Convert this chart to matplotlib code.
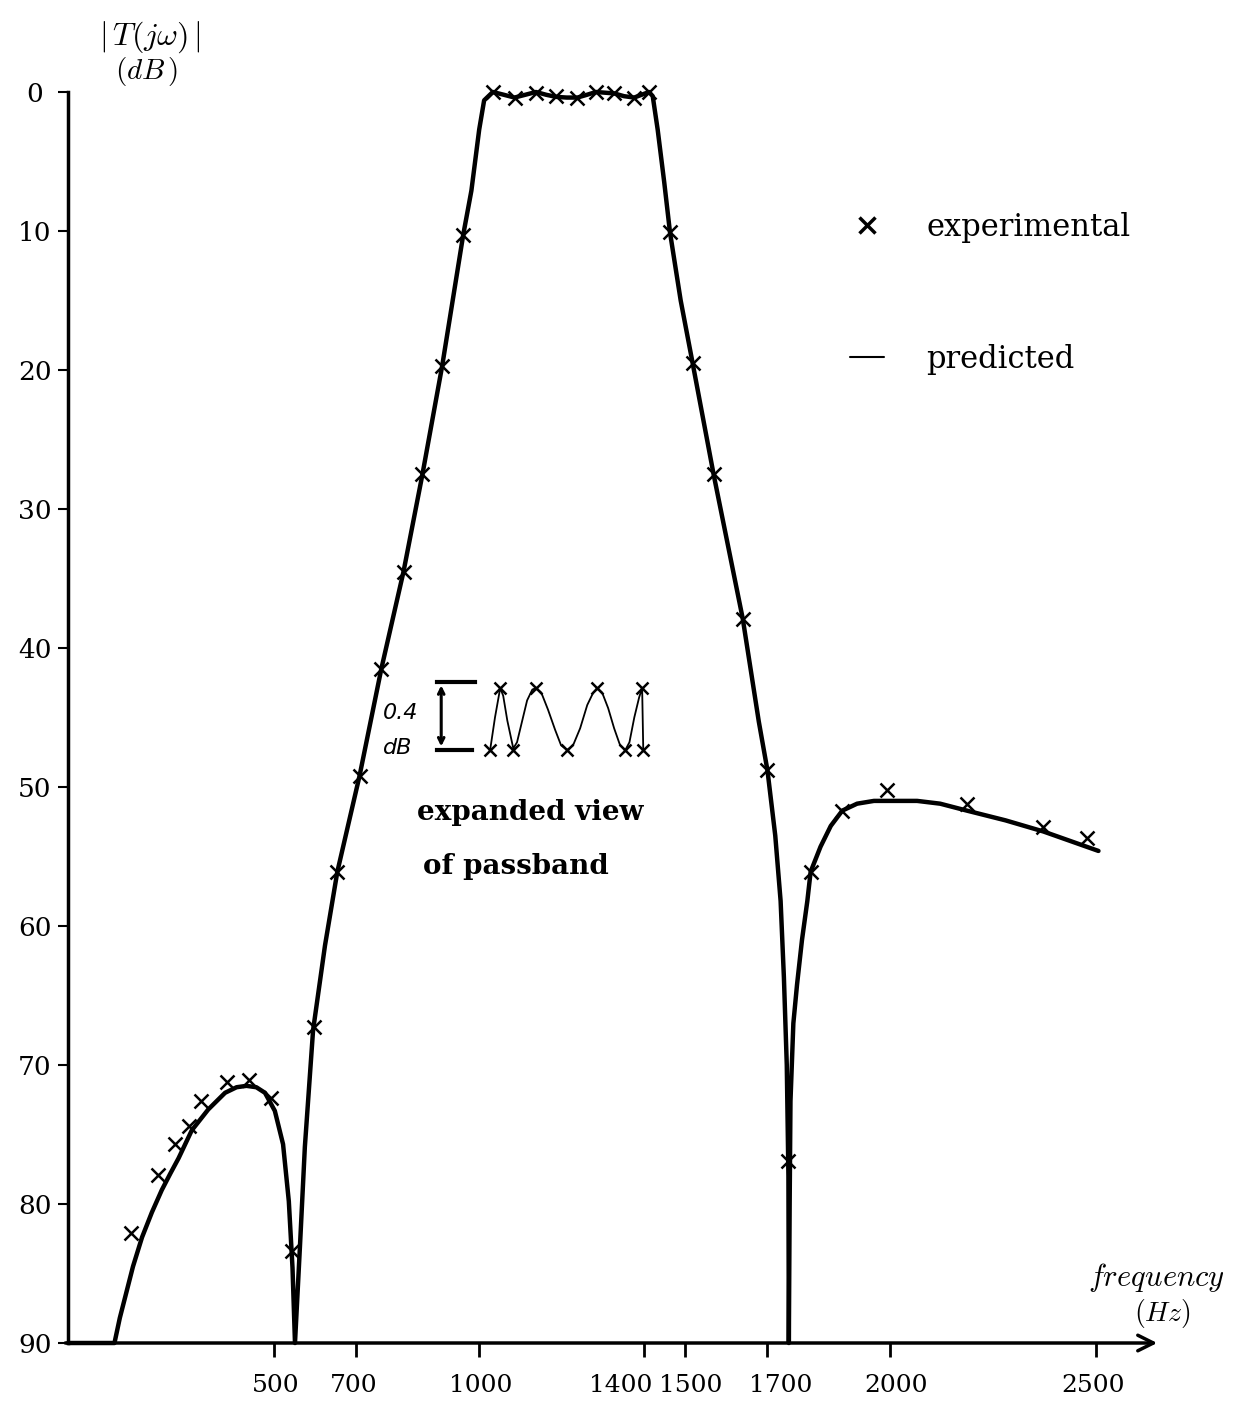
import matplotlib
matplotlib.use("Agg")
import matplotlib.pyplot as plt
import matplotlib.transforms as mtransforms

plt.rcParams['font.family'] = 'DejaVu Serif'
plt.rcParams['mathtext.fontset'] = 'cm'

# predicted response: frequency (Hz) and attenuation (dB)
pred_f = [0, 113, 126, 139, 158, 180, 204, 228, 249, 269, 301, 341, 382, 410, 434, 458,
          479, 503, 523, 537, 546, 552,
          564, 576, 596, 625, 655, 709, 762, 816, 862, 910, 961, 981, 1000, 1012,
          1033, 1060, 1086, 1112, 1138, 1163, 1187, 1213, 1239, 1262, 1284, 1306, 1328,
          1352, 1377, 1395, 1413,
          1422, 1434, 1450, 1464, 1490, 1519, 1570, 1641, 1680, 1701, 1720, 1733, 1741,
          1748, 1752, 1753,
          1755, 1757, 1764, 1773, 1785, 1798, 1806, 1830, 1855, 1883, 1919, 1960, 2000,
          2065, 2121, 2186, 2280, 2372, 2506]
pred_db = [90, 90, 88.2, 86.7, 84.5, 82.4, 80.6, 79.0, 77.8, 76.7, 74.7, 73.2, 72.0, 71.6, 71.5, 71.6,
           72.0, 73.3, 75.7, 79.8, 84.6, 90,
           83.1, 75.9, 67.5, 61.4, 56.1, 49.2, 41.5, 34.5, 27.5, 19.7, 10.3, 7.1, 2.7, 0.6,
           0.0, 0.2, 0.4, 0.2, 0.0, 0.2, 0.35, 0.4, 0.4, 0.2, 0.0, 0.05, 0.1,
           0.3, 0.4, 0.2, 0.0,
           0.3, 2.7, 6.5, 10.1, 15.0, 19.5, 27.5, 37.9, 45.3, 48.8, 53.5, 58.2, 63.7,
           70.0, 78.0, 90,
           80.0, 72.6, 67.0, 64.2, 61.0, 58.2, 56.1, 54.3, 52.8, 51.7, 51.2, 51.0, 51.0,
           51.0, 51.2, 51.7, 52.4, 53.2, 54.6]

# measured points
exp_f = [154, 220, 260, 294, 324, 386, 439, 493, 544,
         599, 655, 709, 762, 816, 862, 910, 961,
         1033, 1086, 1138, 1187, 1239, 1284, 1328, 1377, 1413,
         1464, 1519, 1570, 1641, 1701, 1750,
         1806, 1883, 1992, 2186, 2372, 2477]
exp_db = [82.1, 77.9, 75.7, 74.4, 72.6, 71.2, 71.1, 72.4, 83.4,
          67.3, 56.1, 49.2, 41.5, 34.5, 27.5, 19.7, 10.3,
          0.0, 0.4, 0.1, 0.3, 0.4, 0.0, 0.1, 0.4, 0.0,
          10.1, 19.5, 27.5, 37.9, 48.8, 76.9,
          56.1, 51.7, 50.2, 51.2, 52.9, 53.7]

# expanded passband sketch
inset_f = [1010, 1023, 1037, 1045, 1056, 1072, 1082, 1096, 1109, 1123, 1133, 1147, 1165,
           1184, 1200, 1216, 1232, 1251, 1270, 1286, 1297, 1310, 1326, 1342, 1358, 1372,
           1383, 1396, 1409, 1417, 1420]
inset_db = [0.40, 0.19, 0.0, 0.05, 0.21, 0.39, 0.35, 0.21, 0.08, 0.01, 0.0, 0.03, 0.14,
            0.27, 0.37, 0.40, 0.37, 0.26, 0.11, 0.03, 0.0, 0.03, 0.13, 0.26, 0.37, 0.40,
            0.35, 0.19, 0.06, 0.0, 0.40]
inset_exp_f = [1010, 1037, 1072, 1133, 1216, 1297, 1372, 1417, 1420]
inset_exp_db = [0.4, 0.0, 0.4, 0.0, 0.4, 0.0, 0.4, 0.0, 0.4]

x_ticks = [500, 700, 1000, 1400, 1500, 1700, 2000, 2500]
y_ticks = [0, 10, 20, 30, 40, 50, 60, 70, 80, 90]

W, H = 1238, 1407
fig = plt.figure(figsize=(W / 100, H / 100), dpi=100)

# axes placed in pixels: y axis at x=68, x axis at y=1343
px0, px1, py0, py1 = 68, 1160, 92, 1343
ax = fig.add_axes([px0 / W, 1 - py1 / H, (px1 - px0) / W, (py1 - py0) / H])
ax.set_xlim(0, (px1 - px0) / 0.4112)
ax.set_ylim(90, 0)

ax.plot(pred_f, pred_db, color='black', lw=3.2, solid_capstyle='round',
        solid_joinstyle='round', clip_on=False, label='predicted')
ax.plot(exp_f, exp_db, 'x', color='black', ms=10, mew=1.8, clip_on=False,
        label='experimental')

for s in ['top', 'right', 'bottom']:
    ax.spines[s].set_visible(False)
ax.spines['left'].set_linewidth(2.5)
ax.annotate('', xy=(1.0, 0), xytext=(-0.005, 0), xycoords='axes fraction',
            arrowprops=dict(arrowstyle='->', lw=2.5, mutation_scale=28, color='black'))

ax.set_xticks(x_ticks)
ax.set_xticklabels([str(v) for v in x_ticks])
ax.set_yticks(y_ticks)
ax.set_yticklabels([str(v) for v in y_ticks])
ax.tick_params(axis='x', direction='out', length=10, width=2, pad=12, labelsize=18)
ax.tick_params(axis='y', direction='out', length=7, width=1.5, pad=17, labelsize=19)
for lab in ax.get_yticklabels():
    lab.set_ha('center')

# hand-placed label shifts of the original (pixels)
label_nudge_px = [2, -2, 1, -23, 6, 14, 6, -3]
for lab, dx in zip(ax.get_xticklabels(), label_nudge_px):
    lab.set_transform(lab.get_transform() +
                      mtransforms.ScaledTranslation(dx / 100, 0, fig.dpi_scale_trans))

fig.text(150 / W, 1 - 37 / H, r'$|\,T(j\omega)\,|$', ha='center', va='center', fontsize=23)
fig.text(147 / W, 1 - 71 / H, r'$(dB\,)$', ha='center', va='center', fontsize=21)
fig.text(1156 / W, 1 - 1278 / H, r'$frequency$', ha='center', va='center', fontsize=22)
fig.text(1162 / W, 1 - 1314 / H, r'$(Hz)$', ha='center', va='center', fontsize=20)

leg = ax.legend(handles=ax.get_lines()[::-1], loc='upper left',
                bbox_to_anchor=(850 / W, 1 - 212 / H), bbox_transform=fig.transFigure,
                frameon=False, fontsize=22, handlelength=1.1, handletextpad=1.4,
                labelspacing=3.3, borderpad=0, borderaxespad=0)
leg.legend_handles[1].set_linewidth(1.5)
leg.legend_handles[0].set_markersize(11)
leg.legend_handles[0].set_markeredgewidth(2.5)

# expanded view of passband
ins = fig.add_axes([430 / W, 1 - 757.75 / H, 217 / W, 77.5 / H])
ins.set_xlim(849, 1430)
ins.set_ylim(0.45, -0.05)
ins.axis('off')
ins.plot(inset_f, inset_db, color='black', lw=1.3, clip_on=False)
ins.plot(inset_exp_f, inset_exp_db, 'x', color='black', ms=8, mew=1.8, clip_on=False)
ins.plot([868, 970], [-0.04, -0.04], color='black', lw=3, clip_on=False)
ins.plot([868, 962], [0.40, 0.40], color='black', lw=3, clip_on=False)
ins.annotate('', xy=(879, -0.035), xytext=(879, 0.395),
             arrowprops=dict(arrowstyle='<->', lw=2.2, color='black'))
fig.text(401 / W, 1 - 713 / H, '0.4', ha='center', va='center', fontsize=16,
         family='DejaVu Sans', style='italic')
fig.text(398 / W, 1 - 748 / H, 'dB', ha='center', va='center', fontsize=16,
         family='DejaVu Sans', style='italic')

fig.text(530 / W, 1 - 813 / H, 'expanded view', ha='center', va='center',
         fontsize=20, fontweight='bold')
fig.text(516 / W, 1 - 866 / H, 'of passband', ha='center', va='center',
         fontsize=20, fontweight='bold')

fig.savefig('out.png', dpi=100, facecolor='white')
